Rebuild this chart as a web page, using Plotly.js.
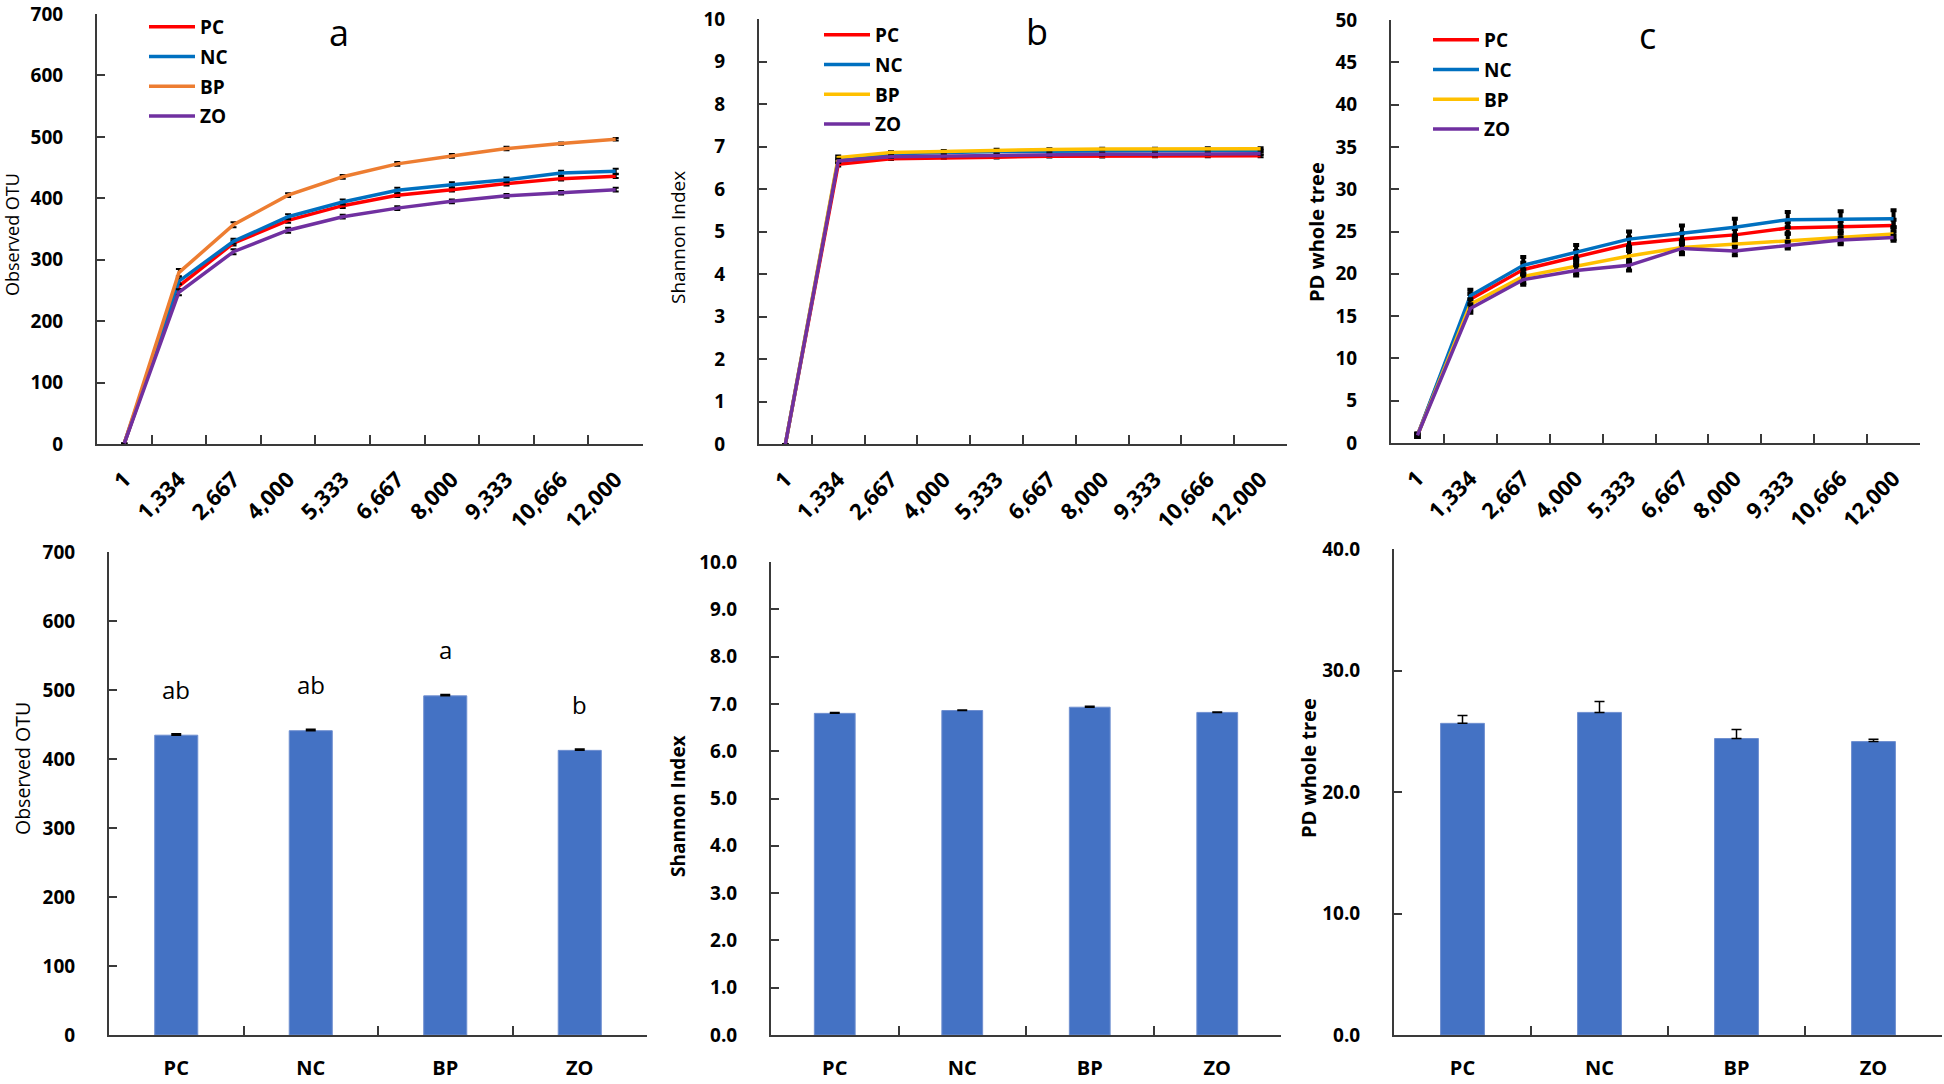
<!DOCTYPE html>
<html><head><meta charset="utf-8">
<script src="https://cdn.plot.ly/plotly-3.0.1.min.js"></script>
<style>html,body{margin:0;padding:0;background:#fff}#chart{width:1944px;height:1084px}</style>
</head><body><div id="chart"></div>
<script>
// ---------- data ----------
const depths = ["1","1,334","2,667","4,000","5,333","6,667","8,000","9,333","10,666","12,000"];
const groups = ["PC","NC","BP","ZO"];

// Observed OTU rarefaction (panel a)
const otuPC = [1, 257, 327, 364, 388, 405, 414, 424, 432, 436];
const otuNC = [1, 265, 330, 370, 394, 413, 422, 430, 441, 444];
const otuBP = [1, 279, 357, 405, 435, 456, 469, 481, 489, 496];
const otuZO = [1, 247, 313, 348, 370, 384, 395, 404, 409, 414];
const otuErrPC = [0, 5, 4, 4, 4, 3, 3, 3, 3, 3];
const otuErrNC = [0, 5, 4, 4, 4, 4, 4, 4, 4, 4];
const otuErrBP = [0, 6, 4, 3, 3, 3, 3, 3, 2, 2];
const otuErrZO = [0, 5, 4, 4, 3, 3, 3, 3, 3, 3];

// Shannon rarefaction (panel b)
const shPC = [0, 6.58, 6.71, 6.74, 6.75, 6.77, 6.77, 6.78, 6.78, 6.78];
const shNC = [0, 6.70, 6.83, 6.86, 6.88, 6.89, 6.90, 6.90, 6.91, 6.91];
const shBP = [0, 6.74, 6.86, 6.89, 6.92, 6.93, 6.94, 6.94, 6.95, 6.95];
const shZO = [0, 6.66, 6.76, 6.78, 6.80, 6.81, 6.82, 6.82, 6.83, 6.83];
const shErrPC = [0, 0.05, 0.03, 0.03, 0.03, 0.03, 0.03, 0.03, 0.03, 0.03];
const shErrNC = [0, 0.05, 0.03, 0.03, 0.03, 0.03, 0.03, 0.03, 0.03, 0.03];
const shErrBP = [0, 0.05, 0.03, 0.03, 0.03, 0.03, 0.03, 0.03, 0.03, 0.03];
const shErrZO = [0, 0.05, 0.03, 0.03, 0.03, 0.03, 0.03, 0.03, 0.03, 0.03];

// PD whole tree rarefaction (panel c)
const pdPC = [0.9, 17.0, 20.5, 22.0, 23.5, 24.1, 24.6, 25.4, 25.5, 25.7];
const pdNC = [0.9, 17.4, 21.0, 22.6, 24.1, 24.8, 25.5, 26.4, 26.5, 26.5];
const pdBP = [0.9, 16.4, 19.7, 20.9, 22.1, 23.1, 23.5, 24.0, 24.3, 24.7];
const pdZO = [0.9, 15.9, 19.3, 20.4, 21.0, 23.0, 22.7, 23.4, 24.0, 24.3];
const pdErrPC = [0.2, 0.6, 0.8, 0.7, 0.8, 0.7, 0.7, 0.7, 0.7, 0.7];
const pdErrNC = [0.2, 0.7, 1.0, 0.8, 0.9, 0.9, 1.0, 0.9, 0.9, 1.0];
const pdErrBP = [0.2, 0.6, 0.8, 0.8, 0.9, 0.8, 0.8, 0.8, 0.8, 0.8];
const pdErrZO = [0.2, 0.5, 0.6, 0.6, 0.6, 0.5, 0.5, 0.4, 0.3, 0.2];

// final-depth means (bottom row)
const barOTU = [434.5, 441, 491.5, 412.5];
const barOTUErr = [2, 2, 2, 2];
const barSh = [6.80, 6.86, 6.93, 6.82];
const barShErr = [0.02, 0.01, 0.02, 0.01];
const barPD = [25.65, 26.55, 24.4, 24.15];
const barPDErr = [0.65, 0.9, 0.75, 0.2];
const otuLetters = ["ab", "ab", "a", "b"];

// ---------- styling / layout helpers ----------
const W = 1944, H = 1084;
const fx = v => v / W, fy = v => 1 - v / H;
const FONT = "Open Sans, Liberation Sans, sans-serif";
const AX = "#3a3a3a";
const colA = {PC:"#FF0000", NC:"#0070C0", BP:"#ED7D31", ZO:"#7030A0"};
const colBC = {PC:"#FF0000", NC:"#0070C0", BP:"#FFC000", ZO:"#7030A0"};
const BAR = "#4472C4";

function lineTrace(name, y, err, color, xa, ya, leg, thick) {
  return {type:"scatter", mode:"lines", name: name, x: depths, y: y,
    xaxis: xa, yaxis: ya, legend: leg, legendgroup: leg + name,
    line: {color: color, width: 3.5},
    error_y: {type:"data", array: err, visible:true, color:"#000", thickness: thick, width: 3}};
}
function barTrace(y, err, xa, ya) {
  return {type:"bar", x: groups, y: y, xaxis: xa, yaxis: ya, showlegend:false,
    marker: {color: BAR, line: {color: "#6f8fd0", width: 1}},
    error_y: {type:"data", symmetric:false, array: err, arrayminus: err.map(() => 0),
      visible:true, color:"#000", thickness:1.5, width:5}};
}

const tickFont = {family: FONT, size: 19, color: "#000", weight: 700};
const rotFont = {family: FONT, size: 22, color: "#000", weight: 700};
const catFont = {family: FONT, size: 20, color: "#000", weight: 700};

function xCat(domain, anchor, rotated) {
  return {domain: domain, anchor: anchor, type:"category", showline:true, linecolor:AX, linewidth:2,
    ticks:"inside", tickson:"boundaries", ticklen:9, tickwidth:2, tickcolor:AX,
    showgrid:false, zeroline:false, tickangle: rotated ? -45 : 0,
    ticklabelstandoff: rotated ? 12 : 14, tickfont: rotated ? rotFont : catFont, fixedrange:true};
}
function yLin(domain, anchor, max, dtick, fmt) {
  return {domain: domain, anchor: anchor, range:[0, max], tick0:0, dtick: dtick, tickformat: fmt,
    showline:true, linecolor:AX, linewidth:2, ticks:"inside", ticklen:8, tickwidth:2, tickcolor:AX,
    showgrid:false, zeroline:false, ticklabelstandoff: 28, ticklabeloverflow:"allow",
    tickfont: tickFont, fixedrange:true};
}

const traces = [
  lineTrace("PC", otuPC, otuErrPC, colA.PC, "x", "y", "legend", 2),
  lineTrace("NC", otuNC, otuErrNC, colA.NC, "x", "y", "legend", 2),
  lineTrace("BP", otuBP, otuErrBP, colA.BP, "x", "y", "legend", 2),
  lineTrace("ZO", otuZO, otuErrZO, colA.ZO, "x", "y", "legend", 2),
  lineTrace("PC", shPC, shErrPC, colBC.PC, "x2", "y2", "legend2", 2),
  lineTrace("NC", shNC, shErrNC, colBC.NC, "x2", "y2", "legend2", 2),
  lineTrace("BP", shBP, shErrBP, colBC.BP, "x2", "y2", "legend2", 2),
  lineTrace("ZO", shZO, shErrZO, colBC.ZO, "x2", "y2", "legend2", 2),
  lineTrace("PC", pdPC, pdErrPC, colBC.PC, "x3", "y3", "legend3", 4),
  lineTrace("NC", pdNC, pdErrNC, colBC.NC, "x3", "y3", "legend3", 4),
  lineTrace("BP", pdBP, pdErrBP, colBC.BP, "x3", "y3", "legend3", 4),
  lineTrace("ZO", pdZO, pdErrZO, colBC.ZO, "x3", "y3", "legend3", 4),
  barTrace(barOTU, barOTUErr, "x4", "y4"),
  barTrace(barSh, barShErr, "x5", "y5"),
  barTrace(barPD, barPDErr, "x6", "y6")
];

function legendAt(lineCenterX, topY) {
  return {x: fx(lineCenterX - 21), y: fy(topY), xanchor:"left", yanchor:"top",
    bgcolor:"rgba(0,0,0,0)", borderwidth:0, tracegroupgap: 2, itemwidth: 46,
    font: {family: FONT, size: 19, color:"#000", weight:700}};
}

function yTitle(text, cx, cy, size, bold) {
  return {text: text, xref:"paper", yref:"paper", x: fx(cx), y: fy(cy), textangle:-90,
    showarrow:false, xanchor:"center", yanchor:"middle",
    font: {family: FONT, size: size, color:"#000", weight: bold ? 700 : 400}};
}
function panelLetter(text, cx, cy) {
  return {text: text, xref:"paper", yref:"paper", x: fx(cx), y: fy(cy), showarrow:false,
    xanchor:"center", yanchor:"middle", font: {family: FONT, size: 36, color:"#000"}};
}

const annotations = [
  yTitle("Observed OTU", 12, 235, 18, false),
  yTitle("Shannon Index", 678, 238, 19, false),
  yTitle("PD whole tree", 1316, 232, 20, true),
  yTitle("Observed OTU", 22, 769, 19.5, false),
  yTitle("Shannon Index", 678, 806, 19, true),
  yTitle("PD whole tree", 1308, 768, 20, true),
  panelLetter("a", 339, 33),
  panelLetter("b", 1037, 31),
  panelLetter("c", 1647, 36)
];
groups.forEach((g, i) => {
  annotations.push({text: otuLetters[i], xref:"x4", yref:"y4", x: g, y: barOTU[i],
    yanchor:"middle", yshift: 46, showarrow:false,
    font: {family: FONT, size: 24, color:"#000"}});
});

const layout = {
  width: W, height: H, margin: {l:0, r:0, t:0, b:0},
  paper_bgcolor:"#fff", plot_bgcolor:"#fff", bargap: 0.68,
  font: {family: FONT, color:"#000"},
  xaxis:  xCat([fx(97),  fx(643)],  "y",  true),
  yaxis:  yLin([fy(444), fy(14)],   "x",  700, 100),
  xaxis2: xCat([fx(759), fx(1287)], "y2", true),
  yaxis2: yLin([fy(444), fy(19)],   "x2", 10, 1),
  xaxis3: xCat([fx(1391), fx(1920)], "y3", true),
  yaxis3: yLin([fy(443), fy(20)],   "x3", 50, 5),
  xaxis4: xCat([fx(109), fx(647)],  "y4", false),
  yaxis4: yLin([fy(1035), fy(552)], "x4", 700, 100),
  xaxis5: xCat([fx(771), fx(1281)], "y5", false),
  yaxis5: yLin([fy(1035), fy(562)], "x5", 10, 1, ".1f"),
  xaxis6: xCat([fx(1394), fx(1942)], "y6", false),
  yaxis6: yLin([fy(1035), fy(549)], "x6", 40, 10, ".1f"),
  legend:  legendAt(165, 8),
  legend2: legendAt(840, 16),
  legend3: legendAt(1449, 21),
  annotations: annotations
};

Plotly.newPlot("chart", traces, layout, {staticPlot:true, displayModeBar:false});
</script>
</body></html>
